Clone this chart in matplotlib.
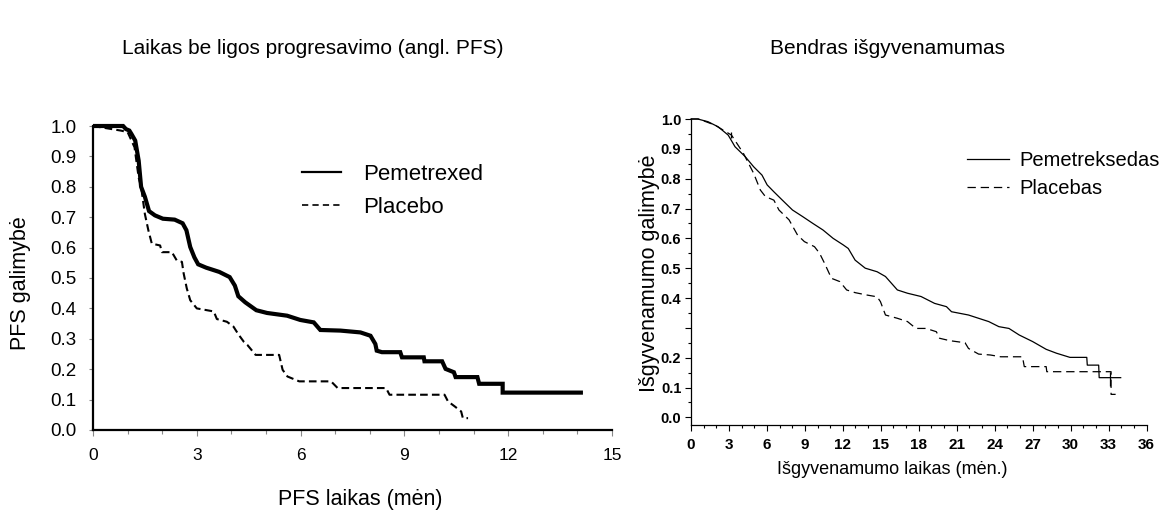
import matplotlib
matplotlib.use("Agg")
import matplotlib.pyplot as plt
from matplotlib.lines import Line2D
from matplotlib.ticker import MultipleLocator, FixedLocator, FuncFormatter

plt.rcParams['font.family'] = ['Liberation Sans', 'DejaVu Sans']
plt.rcParams['lines.scale_dashes'] = False

# --- left panel: PFS (months, probability), traced polylines ---
pfs_pem_t = [0, 0.87, 0.95, 1.05, 1.11, 1.22, 1.32, 1.39, 1.5, 1.62,
             1.79, 2.02, 2.36, 2.59, 2.7, 2.81, 2.93, 3.04, 3.27, 3.65,
             3.95, 4.1, 4.2, 4.4, 4.72, 5.03, 5.61, 5.99, 6.38, 6.57,
             7.15, 7.73, 8.02, 8.16, 8.2, 8.35, 8.88, 8.93, 9.56, 9.58,
             10.09, 10.19, 10.43, 10.48, 11.11, 11.16, 11.84, 11.84, 14.16]
pfs_pem_s = [1.0, 1.0, 0.99, 0.985, 0.974, 0.952, 0.886, 0.8, 0.767, 0.72,
             0.706, 0.695, 0.692, 0.68, 0.657, 0.602, 0.568, 0.545, 0.534, 0.52,
             0.503, 0.475, 0.44, 0.42, 0.394, 0.385, 0.376, 0.362, 0.354, 0.329,
             0.327, 0.321, 0.31, 0.283, 0.261, 0.256, 0.256, 0.239, 0.239, 0.226,
             0.226, 0.201, 0.19, 0.174, 0.174, 0.152, 0.152, 0.123, 0.123]
pfs_pla_t = [0, 0.8, 1.0, 1.2, 1.32, 1.39, 1.5, 1.6, 1.7, 1.94,
             1.99, 2.28, 2.42, 2.57, 2.62, 2.71, 2.81, 3.0, 3.49, 3.58,
             3.87, 4.06, 4.2, 4.36, 4.46, 4.7, 5.38, 5.48, 5.62, 5.96,
             6.88, 7.07, 8.47, 8.57, 10.16, 10.26, 10.45, 10.64, 10.69, 10.84]
pfs_pla_s = [1.0, 0.985, 0.98, 0.93, 0.83, 0.8, 0.71, 0.657, 0.613, 0.607,
             0.585, 0.585, 0.558, 0.553, 0.515, 0.466, 0.427, 0.4, 0.39, 0.365,
             0.356, 0.34, 0.315, 0.29, 0.28, 0.247, 0.247, 0.198, 0.176, 0.16,
             0.16, 0.138, 0.138, 0.116, 0.116, 0.094, 0.078, 0.061, 0.039, 0.039]

# --- right panel: overall survival ---
os_pem_t = [0, 0.53, 1.34, 2.14, 2.94, 3.48, 4.28, 4.95, 5.61, 6.02,
            6.55, 7.22, 8.02, 8.82, 9.63, 10.43, 11.23, 12.03, 12.43, 12.97,
            13.77, 14.71, 15.37, 16.31, 17.11, 18.18, 19.25, 20.19, 20.59, 21.93,
            22.73, 23.53, 24.33, 25.13, 25.94, 27.0, 28.07, 28.88, 29.95, 31.28,
            31.32, 32.22, 32.26, 33.96]
os_pem_s = [1.0, 1.0, 0.991, 0.974, 0.946, 0.907, 0.874, 0.84, 0.812, 0.779,
            0.756, 0.728, 0.695, 0.673, 0.65, 0.628, 0.6, 0.578, 0.566, 0.527,
            0.5, 0.488, 0.472, 0.427, 0.416, 0.405, 0.382, 0.371, 0.354, 0.343,
            0.332, 0.321, 0.304, 0.298, 0.276, 0.254, 0.228, 0.215, 0.201, 0.201,
            0.175, 0.175, 0.133, 0.133]
os_pla_t = [0, 0.6, 1.87, 3.2, 4.14, 4.95, 5.48, 5.88, 6.55, 6.95,
            7.75, 8.42, 8.96, 9.76, 10.16, 10.56, 11.1, 11.76, 12.3, 12.97,
            13.9, 14.71, 14.97, 15.37, 16.31, 17.11, 17.78, 18.58, 19.39, 19.65,
            20.45, 21.66, 21.93, 22.73, 23.66, 24.47, 26.2, 26.34, 28.07, 28.12,
            33.2, 33.2, 33.56]
os_pla_s = [1.0, 1.0, 0.98, 0.946, 0.885, 0.818, 0.762, 0.74, 0.728, 0.695,
            0.662, 0.611, 0.589, 0.572, 0.55, 0.516, 0.466, 0.455, 0.427, 0.418,
            0.41, 0.404, 0.388, 0.343, 0.332, 0.321, 0.298, 0.298, 0.287, 0.265,
            0.257, 0.25, 0.231, 0.212, 0.209, 0.203, 0.203, 0.17, 0.17, 0.153,
            0.153, 0.077, 0.077]
censor_t = [3.2, 33.1]
censor_s = [0.945, 0.13]
censor_ms = [5, 10]

W, H = 1160, 511
fig = plt.figure(figsize=(W / 100, H / 100), dpi=100)


def box(x0, y0, x1, y1):
    # pixel box -> figure fraction
    return [x0 / W, 1 - y1 / H, (x1 - x0) / W, (y1 - y0) / H]


# ---------------- left ----------------
ax1 = fig.add_axes(box(93, 126, 612, 430))
ax1.plot(pfs_pem_t, pfs_pem_s, color='black', lw=3.0, clip_on=False,
         solid_joinstyle='miter', solid_capstyle='butt')
ax1.plot(pfs_pla_t, pfs_pla_s, color='black', lw=1.5, dashes=(5.5, 3.0), clip_on=False)
ax1.set_xlim(0, 15)
ax1.set_ylim(0, 1.0)
ax1.xaxis.set_major_locator(MultipleLocator(3))
ax1.xaxis.set_minor_locator(MultipleLocator(1))
ax1.yaxis.set_major_locator(MultipleLocator(0.1))
ax1.yaxis.set_major_formatter(FuncFormatter(lambda v, p: f"{v:.1f}"))
for s in ['top', 'right']:
    ax1.spines[s].set_visible(False)
for s in ['left', 'bottom']:
    ax1.spines[s].set_linewidth(1.6)
ax1.tick_params(axis='both', which='both', direction='out', color='#888888', width=0.8)
ax1.tick_params(axis='x', which='major', length=4, pad=9, labelsize=12.5)
ax1.tick_params(axis='x', which='minor', length=3)
ax1.tick_params(axis='y', which='major', length=3, pad=9, labelsize=13.5)
h1 = [Line2D([], [], color='black', lw=1.6),
      Line2D([], [], color='black', lw=1.2, dashes=(4.5, 3.0))]
ax1.legend(h1, ['Pemetrexed', 'Placebo'], loc='upper left',
           bbox_to_anchor=(302 / W, 1 - 164 / H), bbox_transform=fig.transFigure,
           frameon=False, fontsize=16, handlelength=1.75, handletextpad=1.0,
           labelspacing=0.55, borderpad=0, borderaxespad=0)

fig.text(21 / W, 1 - 283 / H, 'PFS galimybė', rotation=90, ha='center', va='center', fontsize=15.5)
fig.text(360 / W, 1 - 499 / H, 'PFS laikas (mėn)', ha='center', va='center', fontsize=15.5)
fig.text(313 / W, 1 - 48 / H, 'Laikas be ligos progresavimo (angl. PFS)', ha='center',
         va='center', fontsize=15)

# ---------------- right ----------------
ax2 = fig.add_axes(box(691, 119, 1146.5, 424.5))
ax2.plot(os_pem_t, os_pem_s, color='black', lw=0.9, clip_on=False)
ax2.plot(os_pla_t, os_pla_s, color='black', lw=0.9, dashes=(6, 3.5), clip_on=False)
for ct, cs, ms in zip(censor_t, censor_s, censor_ms):
    ax2.plot([ct], [cs], ls='none', marker='|', ms=ms, mew=0.9, color='black')
ax2.set_xlim(0, 36)
ax2.set_ylim(-0.024, 1.0)
ax2.xaxis.set_major_locator(MultipleLocator(3))
ax2.xaxis.set_minor_locator(MultipleLocator(1))
ax2.yaxis.set_major_locator(FixedLocator([i / 10 for i in range(11)]))
ax2.yaxis.set_minor_locator(FixedLocator([i / 20 for i in range(1, 20, 2)]))
ax2.yaxis.set_major_formatter(FuncFormatter(lambda v, p: '' if abs(v - 0.3) < 1e-6 else f"{v:.1f}"))
for s in ['top', 'right']:
    ax2.spines[s].set_visible(False)
for s in ['left', 'bottom']:
    ax2.spines[s].set_linewidth(0.9)
ax2.tick_params(axis='both', which='both', direction='out', width=0.8)
ax2.tick_params(axis='both', which='major', length=4)
ax2.tick_params(axis='both', which='minor', length=2.5)
ax2.tick_params(axis='x', which='major', pad=6)
ax2.tick_params(axis='y', which='major', pad=3)
for lab in ax2.get_xticklabels():
    lab.set_fontweight('bold')
    lab.set_fontsize(11)
for lab in ax2.get_yticklabels():
    lab.set_fontweight('bold')
    lab.set_fontsize(10.5)
h2 = [Line2D([], [], color='black', lw=0.9),
      Line2D([], [], color='black', lw=0.9, dashes=(6, 3.5))]
ax2.legend(h2, ['Pemetreksedas', 'Placebas'], loc='upper left',
           bbox_to_anchor=(967 / W, 1 - 151 / H), bbox_transform=fig.transFigure,
           frameon=False, fontsize=14.5, handlelength=2.1, handletextpad=0.5,
           labelspacing=0.45, borderpad=0, borderaxespad=0)

fig.text(650 / W, 1 - 273 / H, 'Išgyvenamumo galimybė', rotation=90, ha='center', va='center',
         fontsize=15.5)
fig.text(892 / W, 1 - 470 / H, 'Išgyvenamumo laikas (mėn.)', ha='center', va='center',
         fontsize=13)
fig.text(887 / W, 1 - 48 / H, 'Bendras išgyvenamumas', ha='center', va='center', fontsize=15)

fig.savefig('out.png', dpi=100)
